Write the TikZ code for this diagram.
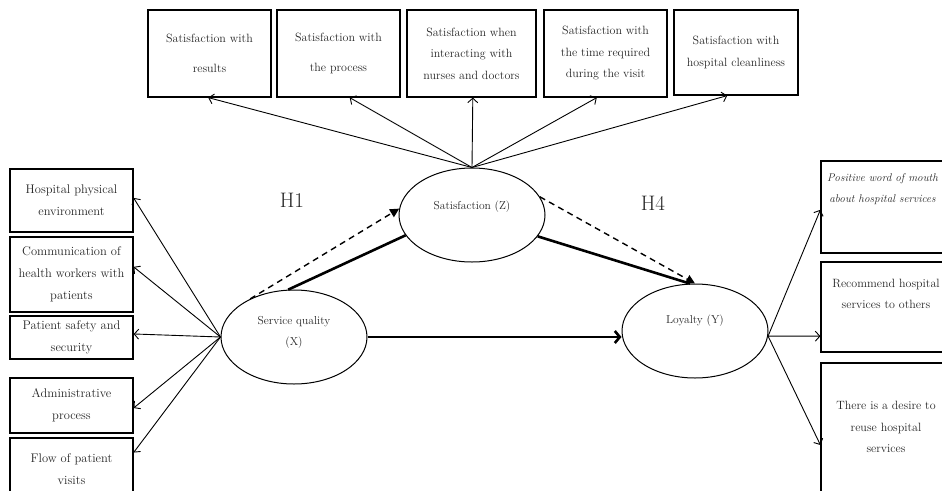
\documentclass[tikz,border=0pt]{standalone}
\usetikzlibrary{arrows.meta,shapes.geometric,calc}
\begin{document}
\begin{tikzpicture}[x=1pt,y=-1pt,
  box/.style={draw,line width=1.2pt,inner sep=2pt,align=center,text=black!85,font=\fontsize{12}{21.5}\selectfont},
  lbox/.style={box,font=\fontsize{12.5}{22}\selectfont},
  rtxt/.style={align=center,text=black!85,font=\fontsize{12}{21.5}\selectfont},
  ell/.style={draw,ellipse,line width=1pt,minimum width=146pt,minimum height=94pt,inner sep=0pt},
  etxt/.style={align=center,text=black!85,font=\fontsize{11.5}{21}\selectfont},
  indarrow/.style={line width=0.9pt,-{Straight Barb[length=4.5pt,width=10pt]}},
  strong/.style={line width=2.6pt},
  dasharr/.style={line width=1.4pt,dash pattern=on 6pt off 4.5pt,-{Triangle[length=9pt,width=9pt]}},
  hyp/.style={text=black!85,font=\fontsize{21}{24}\selectfont}]
\useasboundingbox (0,0) rectangle (942,490);
\clip (0,0) rectangle (942,490);

% top indicator boxes
\node[box,minimum width=123pt,minimum height=87pt] (t1) at (209.5,53.5) {Satisfaction with\\[8pt]results};
\node[box,minimum width=123pt,minimum height=87pt] (t2) at (338.5,53.5) {Satisfaction with\\[8pt]the process};
\node[box,minimum width=129pt,minimum height=87pt] (t3) at (471.5,53.5) {Satisfaction when\\interacting with\\nurses and doctors};
\node[box,minimum width=123pt,minimum height=87pt] (t4) at (605.5,53.5) {Satisfaction with\\the time required\\during the visit};
\node[box,minimum width=124pt,minimum height=85pt] (t5) at (736,52.5) {Satisfaction with\\hospital cleanliness};

% left indicator boxes
\node[lbox,minimum width=123pt,minimum height=63pt] (l1) at (71.5,200.5) {Hospital physical\\environment};
\node[lbox,minimum width=123pt,minimum height=75pt] (l2) at (71.5,274.5) {Communication of\\health workers with\\patients};
\node[lbox,minimum width=123pt,minimum height=43pt] (l3) at (71.5,337.5) {Patient safety and\\security};
\node[lbox,minimum width=123pt,minimum height=55pt] (l4) at (71.5,405.5) {Administrative\\process};
\node[lbox,minimum width=123pt,minimum height=62pt] (l5) at (71.5,469) {Flow of patient\\visits};

% right indicator boxes
\node[box,minimum width=130pt,minimum height=92pt] (r1) at (886,207) {};
\node[box,minimum width=130pt,minimum height=90pt] (r2) at (886,307) {};
\node[box,minimum width=130pt,minimum height=132pt] (r3) at (886,429) {};
\node[rtxt,font=\fontsize{11.2}{21}\selectfont\itshape] (r1t) at (882.5,189) {Positive word of mouth\\about hospital services};
\node[rtxt] (r2t) at (886,294) {Recommend hospital\\services to others};
\node[rtxt] (r3t) at (886,427) {There is a desire to\\reuse hospital\\services};

% latent variables
\node[ell] (X) at (294,337) {};
\node[etxt] (Xt) at (294,332.5) {Service quality\\(X)};
\node[ell] (S) at (472,215) {};
\node[etxt] (St) at (472,207) {Satisfaction (Z)};
\node[ell] (L) at (695,331) {};
\node[etxt] (Lt) at (695,321) {Loyalty (Y)};

\node[hyp] (h1) at (292,200) {H1};
\node[hyp] (h4) at (653,203) {H4};

% indicator arrows
\foreach \n/\f in {t1/0.49,t2/0.59,t3/0.51,t4/0.43,t5/0.43}
  \draw[indarrow] (S.north) -- ($(\n.south west)!\f!(\n.south east)$);
\foreach \n/\f in {l1/0.46,l2/0.40,l3/0.42,l4/0.545,l5/0.24}
  \draw[indarrow] (X.west) -- ($(\n.north east)!\f!(\n.south east)$);
\foreach \n/\f in {r1/0.53,r2/0.82,r3/0.62}
  \draw[indarrow] (L.-4) -- ($(\n.north west)!\f!(\n.south west)$);

% structural paths
\draw[strong] (X.97) -- (S.197);
\draw[strong] (S.-18) -- (L.96);
\draw[strong,-{Straight Barb[length=5pt,width=12pt]}] (X.east) -- (X.east -| L.west);
\draw[dasharr] (X.139) -- (S.175);
\draw[dasharr] (S.15) -- (L.north);
\end{tikzpicture}
\end{document}
